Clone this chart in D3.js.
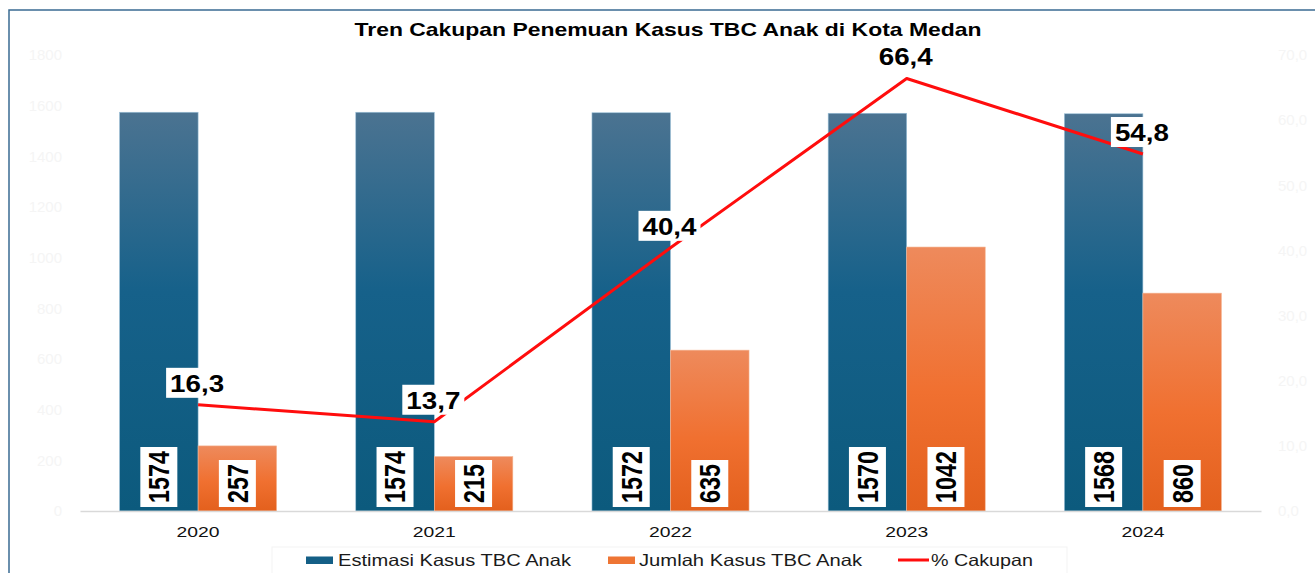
<!DOCTYPE html>
<html>
<head>
<meta charset="utf-8">
<script src="https://cdn.jsdelivr.net/npm/d3@7"></script>
<style>
  html, body { margin: 0; padding: 0; background: #fff; }
  svg { display: block; font-family: "Liberation Sans", Arial, sans-serif; }
</style>
</head>
<body>
<svg id="chart"></svg>
<script>
const years = ['2020', '2021', '2022', '2023', '2024'];
const estimasi = [1574, 1574, 1572, 1570, 1568];
const jumlah = [257, 215, 635, 1042, 860];
const cakupan = [16.3, 13.7, 40.4, 66.4, 54.8];
const leftTicks = [0, 200, 400, 600, 800, 1000, 1200, 1400, 1600, 1800];
const rightTicks = [0, 10, 20, 30, 40, 50, 60, 70];
const seriesNames = ['Estimasi Kasus TBC Anak', 'Jumlah Kasus TBC Anak', '% Cakupan'];

const width = 1315, height = 573;
const svg = d3.select('#chart').attr('width', width).attr('height', height);

const idLocale = d3.formatLocale({ decimal: ',', thousands: '.', grouping: [3], currency: ['Rp', ''] });
const fmtPct = idLocale.format('.1f');

const defs = svg.append('defs');
const gradBlue = defs.append('linearGradient').attr('id', 'gBlue').attr('x1', 0).attr('y1', 0).attr('x2', 0).attr('y2', 1);
gradBlue.append('stop').attr('offset', '0%').attr('stop-color', '#4b7391');
gradBlue.append('stop').attr('offset', '45%').attr('stop-color', '#16618a');
gradBlue.append('stop').attr('offset', '100%').attr('stop-color', '#0c5a7d');
const gradOrange = defs.append('linearGradient').attr('id', 'gOrange').attr('x1', 0).attr('y1', 0).attr('x2', 0).attr('y2', 1);
gradOrange.append('stop').attr('offset', '0%').attr('stop-color', '#ee8a5c');
gradOrange.append('stop').attr('offset', '55%').attr('stop-color', '#f07030');
gradOrange.append('stop').attr('offset', '100%').attr('stop-color', '#e3601d');

// frame
svg.append('rect')
  .attr('x', 9).attr('y', 10).attr('width', 1400).attr('height', 700)
  .attr('fill', '#fff').attr('stroke', '#3a6b92').attr('stroke-width', 1.5);

// scales
const x = d3.scaleBand().domain(years).range([80, 1261]).paddingInner(0.335).paddingOuter(0.1675);
const sub = d3.scaleBand().domain(['est', 'jml']).range([0, x.bandwidth()]);
const yLeft = d3.scaleLinear().domain([0, 1800]).range([511, 55]);
const yRight = d3.scaleLinear().domain([0, 70]).range([511, 55]);

// title
svg.append('text')
  .attr('x', 668).attr('y', 36)
  .attr('text-anchor', 'middle')
  .attr('textLength', 627).attr('lengthAdjust', 'spacingAndGlyphs')
  .style('font-size', '18.5px').style('font-weight', 'bold').style('fill', '#000')
  .text('Tren Cakupan Penemuan Kasus TBC Anak di Kota Medan');

// faint axes
const gl = svg.append('g').attr('transform', 'translate(62,0)')
  .call(d3.axisLeft(yLeft).tickValues(leftTicks).tickSize(0).tickPadding(0).tickFormat(d3.format('d')));
gl.select('.domain').remove();
gl.selectAll('text').style('font-size', '15px').style('fill', '#f5f5f5').style('font-family', 'Liberation Sans, Arial, sans-serif');

const gr = svg.append('g').attr('transform', 'translate(1278,0)')
  .call(d3.axisRight(yRight).tickValues(rightTicks).tickSize(0).tickPadding(0).tickFormat(fmtPct));
gr.select('.domain').remove();
gr.selectAll('text').style('font-size', '15px').style('fill', '#f5f5f5').style('font-family', 'Liberation Sans, Arial, sans-serif');

// bars
const groups = svg.append('g').selectAll('g')
  .data(years)
  .join('g')
  .attr('transform', d => `translate(${x(d)},0)`);

groups.append('rect')
  .attr('x', sub('est')).attr('width', sub.bandwidth())
  .attr('y', (d, i) => yLeft(estimasi[i]))
  .attr('height', (d, i) => yLeft(0) - yLeft(estimasi[i]))
  .attr('fill', 'url(#gBlue)')
  .attr('stroke', '#9cc0d8').attr('stroke-width', 0.6);

groups.append('rect')
  .attr('x', sub('jml')).attr('width', sub.bandwidth())
  .attr('y', (d, i) => yLeft(jumlah[i]))
  .attr('height', (d, i) => yLeft(0) - yLeft(jumlah[i]))
  .attr('fill', 'url(#gOrange)')
  .attr('stroke', '#f5b796').attr('stroke-width', 0.6);

// x axis
const gx = svg.append('g').attr('transform', `translate(0,${yLeft(0)})`)
  .call(d3.axisBottom(x).tickSize(0).tickSizeOuter(0).tickPadding(15));
gx.select('.domain').attr('stroke', '#d9d9d9').attr('stroke-width', 1.5);
gx.selectAll('text')
  .attr('textLength', 43).attr('lengthAdjust', 'spacingAndGlyphs')
  .style('font-size', '15.5px').style('fill', '#111').style('font-family', 'Liberation Sans, Arial, sans-serif');

// rotated value labels at bar base
function barLabel(key, values) {
  const lab = groups.append('g')
    .attr('transform', (d, i) => `translate(${sub(key) + sub.bandwidth() / 2},${yLeft(0) - 4})`);
  lab.append('rect')
    .attr('x', -18.5).attr('width', 37)
    .attr('y', (d, i) => -(String(values[i]).length * 13 + 8))
    .attr('height', (d, i) => String(values[i]).length * 13 + 8)
    .attr('fill', '#fff');
  lab.append('text')
    .attr('transform', 'translate(0,-4) rotate(-90) scale(1,1.2)')
    .attr('dy', '0.36em')
    .attr('text-anchor', 'start')
    .attr('textLength', (d, i) => String(values[i]).length * 13)
    .attr('lengthAdjust', 'spacingAndGlyphs')
    .style('font-size', '24px').style('font-weight', 'bold').style('fill', '#000')
    .text((d, i) => values[i]);
}
barLabel('est', estimasi);
barLabel('jml', jumlah);

// line
const pts = years.map((d, i) => [x(d) + x.bandwidth() / 2, yRight(cakupan[i])]);
svg.append('path')
  .datum(pts)
  .attr('d', d3.line())
  .attr('fill', 'none')
  .attr('stroke', '#ff0d0d')
  .attr('stroke-width', 3)
  .attr('stroke-linejoin', 'round');

// percentage labels
const pl = svg.append('g').selectAll('g')
  .data(pts)
  .join('g')
  .attr('transform', d => `translate(${d[0] - 1},${d[1] - 7})`);
pl.append('rect')
  .attr('x', -31).attr('y', -30).attr('width', 62).attr('height', 30)
  .attr('fill', '#fff');
pl.append('text')
  .attr('y', -6)
  .attr('text-anchor', 'middle')
  .attr('textLength', 54).attr('lengthAdjust', 'spacingAndGlyphs')
  .style('font-size', '24px').style('font-weight', 'bold').style('fill', '#000')
  .text((d, i) => fmtPct(cakupan[i]));

// legend
const legend = svg.append('g').attr('transform', 'translate(0,560)');
legend.append('rect')
  .attr('x', 272).attr('y', -13).attr('width', 795).attr('height', 30)
  .attr('fill', 'none').attr('stroke', '#f3f3f3').attr('stroke-width', 1);
const legendItems = [
  { name: seriesNames[0], type: 'rect', fill: '#145f86', x: 306, tx: 338, tl: 233 },
  { name: seriesNames[1], type: 'rect', fill: '#ee7534', x: 608, tx: 639, tl: 223 },
  { name: seriesNames[2], type: 'line', fill: '#ff0d0d', x: 898, tx: 931, tl: 102 }
];
legendItems.forEach(it => {
  if (it.type === 'rect') {
    legend.append('rect').attr('x', it.x).attr('y', -3.5).attr('width', 27).attr('height', 7.5).attr('fill', it.fill);
  } else {
    legend.append('line').attr('x1', it.x).attr('x2', it.x + 31).attr('y1', 0).attr('y2', 0)
      .attr('stroke', it.fill).attr('stroke-width', 3);
  }
  legend.append('text')
    .attr('x', it.tx).attr('y', 6)
    .attr('textLength', it.tl).attr('lengthAdjust', 'spacingAndGlyphs')
    .style('font-size', '16.5px').style('fill', '#1a1a1a')
    .text(it.name);
});
</script>
</body>
</html>
